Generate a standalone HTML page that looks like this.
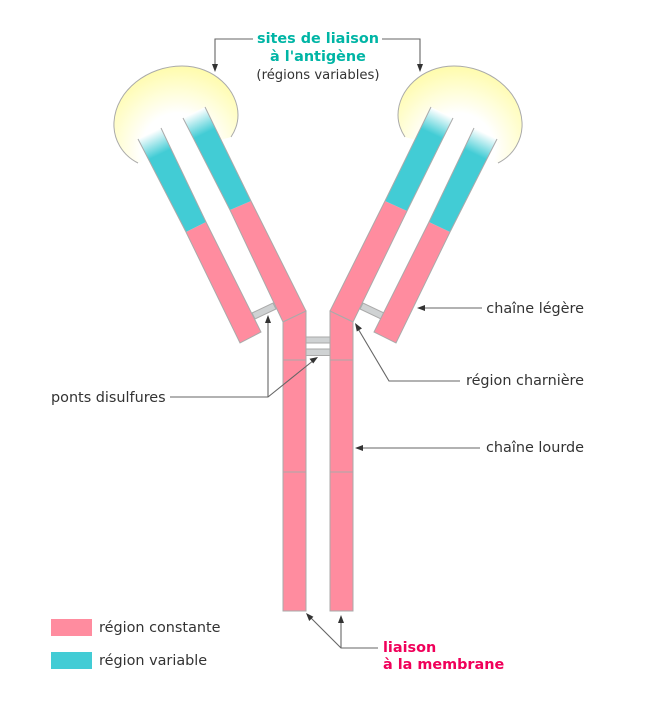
<!DOCTYPE html>
<html><head><meta charset="utf-8"><style>
html,body{margin:0;padding:0;background:#fff}
svg{display:block}
text{font-family:"DejaVu Sans","Liberation Sans",sans-serif;font-size:14.4px;fill:#333}
.b{font-weight:bold}
</style></head><body>
<svg width="650" height="714" viewBox="0 0 650 714" xmlns="http://www.w3.org/2000/svg">
<defs>
<radialGradient id="yl" gradientUnits="userSpaceOnUse" cx="178" cy="150" r="82">
<stop offset="0.45" stop-color="#fff"/><stop offset="1" stop-color="#fffcaf"/></radialGradient>
<radialGradient id="yr" gradientUnits="userSpaceOnUse" cx="458" cy="150" r="82">
<stop offset="0.45" stop-color="#fff"/><stop offset="1" stop-color="#fffcaf"/></radialGradient>
<linearGradient id="t1" gradientUnits="userSpaceOnUse" x1="138" y1="139" x2="148" y2="160"><stop offset="0" stop-color="#fff"/><stop offset="1" stop-color="#42ccd5"/></linearGradient>
<linearGradient id="t2" gradientUnits="userSpaceOnUse" x1="183" y1="118" x2="193" y2="139"><stop offset="0" stop-color="#fff"/><stop offset="1" stop-color="#42ccd5"/></linearGradient>
<linearGradient id="t3" gradientUnits="userSpaceOnUse" x1="453" y1="118" x2="443" y2="139"><stop offset="0" stop-color="#fff"/><stop offset="1" stop-color="#42ccd5"/></linearGradient>
<linearGradient id="t4" gradientUnits="userSpaceOnUse" x1="497" y1="139" x2="487" y2="160"><stop offset="0" stop-color="#fff"/><stop offset="1" stop-color="#42ccd5"/></linearGradient>
</defs>
<!-- blobs -->
<path d="M138 163C122 155 113 139 114 122C116 90 148 66 182 66C214 66 238 90 238 115C238 124 235 131 231 137Z" fill="url(#yl)"/>
<path d="M138 163C122 155 113 139 114 122C116 90 148 66 182 66C214 66 238 90 238 115C238 124 235 131 231 137" fill="none" stroke="#aaa" stroke-width="1"/>
<path d="M498 163C514 155 523 139 522 122C520 90 488 66 454 66C422 66 398 90 398 115C398 124 401 131 405 137Z" fill="url(#yr)"/>
<path d="M498 163C514 155 523 139 522 122C520 90 488 66 454 66C422 66 398 90 398 115C398 124 401 131 405 137" fill="none" stroke="#aaa" stroke-width="1"/>
<g stroke="#aaa" stroke-width="1">
<!-- bridges -->
<path d="M252 313L273 303L276 309L255 319Z" fill="#cfd2d3"/>
<path d="M384 313L363 303L360 309L381 319Z" fill="#cfd2d3"/>
<rect x="306" y="337" width="24" height="6" fill="#cfd2d3"/>
<rect x="306" y="349" width="24" height="6.5" fill="#cfd2d3"/>
<!-- left light -->
<path d="M186 232L206 222L261 332L240 343Z" fill="#ff8c9f" stroke="none"/>
<path d="M138 139L161 128L206 222L186 232Z" fill="url(#t1)" stroke="none"/>
<path d="M138 139L186 232L240 343L261 332L206 222L161 128" fill="none"/>
<!-- left heavy -->
<path d="M230 210L251 201L306 311L283 322Z" fill="#ff8c9f" stroke="none"/>
<path d="M183 118L205 107L251 201L230 210Z" fill="url(#t2)" stroke="none"/>
<path d="M183 118L230 210L283 322L306 311L251 201L205 107" fill="none"/>
<path d="M283 322L306 311V611H283Z" fill="#ff8c9f"/>
<path d="M283 360H306M283 472H306" fill="none"/>
<!-- right light -->
<path d="M450 232L429 222L374 332L396 343Z" fill="#ff8c9f" stroke="none"/>
<path d="M497 139L474 128L429 222L450 232Z" fill="url(#t4)" stroke="none"/>
<path d="M497 139L450 232L396 343L374 332L429 222L474 128" fill="none"/>
<!-- right heavy -->
<path d="M407 211L385 201L330 311L353 322Z" fill="#ff8c9f" stroke="none"/>
<path d="M453 118L431 107L385 201L407 211Z" fill="url(#t3)" stroke="none"/>
<path d="M453 118L407 211L353 322L330 311L385 201L431 107" fill="none"/>
<path d="M353 322L330 311V611H353Z" fill="#ff8c9f"/>
<path d="M330 360H353M330 472H353" fill="none"/>
</g>
<!-- connectors -->
<g fill="none" stroke="#666" stroke-width="1.1">
<path d="M253 39H215V66"/>
<path d="M382 39H420V66"/>
<path d="M170 397H268L314 360"/>
<path d="M268 397V322"/>
<path d="M482 308H422"/>
<path d="M460 381H389L357 327"/>
<path d="M480 448H360"/>
<path d="M378 648H341L309 616"/>
<path d="M341 648V620"/>
</g>
<g fill="#333">
<path d="M215 72L212 64H218Z"/>
<path d="M420 72L417 64H423Z"/>
<path d="M268 315L265 323H271Z"/>
<path d="M318 357L309.500 358.800L313.200 363.500Z"/>
<path d="M417 308L425 305V311Z"/>
<path d="M355 323L356.800 331.500L362 328.400Z"/>
<path d="M355 448L363 445V451Z"/>
<path d="M306 613L309.200 621L313.400 616.800Z"/>
<path d="M341 615L338 623H344Z"/>
</g>
<!-- legend -->
<rect x="51" y="619" width="41" height="17" fill="#ff8c9f"/>
<rect x="51" y="652" width="41" height="17" fill="#42ccd5"/>
<!-- text -->
<text x="318" y="43" text-anchor="middle" class="b" style="fill:#00b5a5">sites de liaison</text>
<text x="318" y="61" text-anchor="middle" class="b" style="fill:#00b5a5">à l'antigène</text>
<text x="318" y="79" text-anchor="middle" style="font-size:13.2px">(régions variables)</text>
<text x="584" y="313" text-anchor="end">chaîne légère</text>
<text x="584" y="385" text-anchor="end">région charnière</text>
<text x="584" y="452" text-anchor="end">chaîne lourde</text>
<text x="51" y="402">ponts disulfures</text>
<text x="99" y="632">région constante</text>
<text x="99" y="665">région variable</text>
<text x="383" y="652" class="b" style="fill:#f0005a">liaison</text>
<text x="383" y="669" class="b" style="fill:#f0005a">à la membrane</text>
</svg>
</body></html>
